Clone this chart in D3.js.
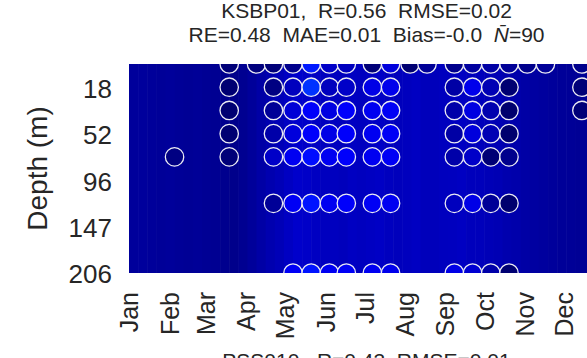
<!DOCTYPE html>
<html>
<head>
<meta charset="utf-8">
<script src="https://cdn.jsdelivr.net/npm/d3@7"></script>
<style>
  body { margin: 0; background: #fff; }
  svg text { font-family: "Liberation Sans", Arial, sans-serif; fill: #262626; }
</style>
</head>
<body>
<div id="chart"></div>
<script>
// month tick labels and depth ticks (depth axis is level index, labels every 2nd level)
const months = ["Jan", "Feb", "Mar", "Apr", "May", "Jun", "Jul", "Aug", "Sep", "Oct", "Nov", "Dec"];
const depthTickLevels = [1, 3, 5, 7, 9];
const depthTickLabels = ["18", "52", "96", "147", "206"];

// model background, one value per week
const bgWeekly = [
  0.031, 0.032, 0.030, 0.029, 0.030,
  0.028, 0.027, 0.028, 0.026,
  0.025, 0.022, 0.020, 0.024,
  0.030, 0.038, 0.045, 0.050,
  0.058, 0.064, 0.062, 0.058, 0.056,
  0.056, 0.054, 0.058, 0.056,
  0.058, 0.060, 0.056, 0.054,
  0.055, 0.058, 0.053, 0.053, 0.055,
  0.056, 0.058, 0.054, 0.053,
  0.050, 0.048, 0.044, 0.042, 0.038,
  0.035, 0.033, 0.031, 0.029,
  0.028, 0.027, 0.026, 0.027
];

// observation dates and values by depth level (null = no sample)
const obsDates = ["2001-02-05", "2001-03-19", "2001-04-09", "2001-04-22", "2001-05-07", "2001-05-21",
  "2001-06-04", "2001-06-17", "2001-07-07", "2001-07-21", "2001-08-05", "2001-08-18",
  "2001-09-08", "2001-09-22", "2001-10-06", "2001-10-20", "2001-11-03", "2001-11-17", "2001-12-15"];
const obsLevel0 = [null, 0.007, 0.010, 0.007, 0.021, 0.120, 0.062, 0.055, 0.007, 0.076, 0.002, 0.028, 0.021, 0.034, 0.038, 0.028, 0.021, 0.028, 0.021];
const obsLevel1 = [null, 0.003, null, 0.014, 0.055, 0.139, 0.055, 0.062, 0.083, 0.086, null, null, 0.038, 0.086, 0.048, 0.003, null, null, 0.007];
const obsLevel2 = [null, 0.003, null, 0.028, 0.072, 0.097, 0.079, 0.097, 0.090, 0.093, null, null, 0.041, 0.079, 0.045, 0.000, null, null, 0.007];
const obsLevel3 = [null, 0.003, null, 0.041, 0.076, 0.097, 0.083, 0.097, 0.090, 0.093, null, null, 0.038, 0.076, 0.048, 0.000, null, null, null];
const obsLevel4 = [0.014, 0.007, null, 0.062, 0.090, 0.110, 0.090, 0.097, 0.090, 0.093, null, null, 0.041, 0.062, 0.005, 0.021, null, null, null];
const obsLevel6 = [null, null, null, 0.028, 0.093, 0.115, 0.090, 0.097, 0.093, 0.090, null, null, 0.055, 0.083, 0.028, 0.000, null, null, null];
const obsLevel9 = [null, null, null, null, 0.093, 0.115, 0.090, 0.093, 0.090, 0.086, null, null, 0.083, 0.069, 0.041, 0.003, null, null, null];

const obsRows = [[0, obsLevel0], [1, obsLevel1], [2, obsLevel2], [3, obsLevel3], [4, obsLevel4], [6, obsLevel6], [9, obsLevel9]];

const W = 587, H = 358;
const svg = d3.select("#chart").append("svg").attr("width", W).attr("height", H);

const parse = d3.timeParse("%Y-%m-%d");
const x = d3.scaleTime().domain([new Date(2001, 0, 1), new Date(2002, 0, 1)]).range([129, 604]);
const y = d3.scaleLinear().domain([0, 9]).range([64, 273]);
const color = d3.scaleLinear()
  .domain([0, 0.1, 0.3])
  .range(["rgb(0,0,110)", "rgb(0,0,255)", "rgb(0,255,255)"])
  .clamp(true);

svg.append("clipPath").attr("id", "plotclip")
  .append("rect")
  .attr("x", x.range()[0]).attr("y", y(0))
  .attr("width", x.range()[1] - x.range()[0]).attr("height", y(9) - y(0));

const plot = svg.append("g").attr("clip-path", "url(#plotclip)");

// background weekly stripes
plot.selectAll("rect.bg")
  .data(bgWeekly)
  .enter().append("rect")
  .attr("class", "bg")
  .attr("x", (d, i) => x(d3.timeDay.offset(new Date(2001, 0, 1), i * 7)))
  .attr("width", (d, i) => {
    const t0 = d3.timeDay.offset(new Date(2001, 0, 1), i * 7);
    const t1 = i === bgWeekly.length - 1 ? new Date(2002, 0, 1) : d3.timeDay.offset(t0, 7);
    return x(t1) - x(t0) + 0.6;
  })
  .attr("y", y(0))
  .attr("height", y(9) - y(0))
  .attr("fill", d => color(d));

// observation circles
const obs = [];
obsRows.forEach(([lev, vals]) => {
  vals.forEach((v, i) => {
    if (v !== null) obs.push({ date: parse(obsDates[i]), level: lev, value: v });
  });
});

plot.selectAll("circle")
  .data(obs)
  .enter().append("circle")
  .attr("cx", d => x(d.date))
  .attr("cy", d => y(d.level))
  .attr("r", 9.2)
  .attr("fill", d => color(d.value))
  .attr("stroke", "#ececf4")
  .attr("stroke-width", 1.3);

// y axis
const yAxis = svg.append("g")
  .attr("transform", `translate(${x.range()[0]},0)`)
  .call(d3.axisLeft(y).tickValues(depthTickLevels)
    .tickFormat((d, i) => depthTickLabels[i]).tickSize(0).tickPadding(17));
yAxis.select(".domain").remove();
yAxis.selectAll("text").style("font-size", "26px").attr("dy", "0.38em");

// x axis, one tick per month start
const monthStarts = months.map((m, i) => new Date(2001, i, 1));
const xAxis = svg.append("g")
  .attr("transform", `translate(0,${y(9)})`)
  .call(d3.axisBottom(x).tickValues(monthStarts)
    .tickFormat(d => months[d.getMonth()]).tickSize(0));
xAxis.select(".domain").remove();
xAxis.selectAll("text")
  .style("font-size", "25px")
  .attr("text-anchor", "end")
  .attr("transform", "rotate(-90)")
  .attr("x", -19)
  .attr("y", 0)
  .attr("dy", "0.35em");

// axis label
svg.append("text")
  .attr("transform", "translate(47,168.5) rotate(-90)")
  .attr("text-anchor", "middle")
  .style("font-size", "28px")
  .text("Depth (m)");

// titles
const cx = (x.range()[0] + x.range()[1]) / 2;
svg.append("text")
  .attr("x", cx).attr("y", 18)
  .attr("text-anchor", "middle")
  .style("font-size", "21px")
  .style("white-space", "pre")
  .text("KSBP01,  R=0.56  RMSE=0.02");

const t2 = svg.append("text")
  .attr("x", cx).attr("y", 42)
  .attr("text-anchor", "middle")
  .style("font-size", "21px")
  .style("white-space", "pre");
t2.append("tspan").text("RE=0.48  MAE=0.01  Bias=-0.0  ");
t2.append("tspan").style("font-style", "italic").text("N\u0304");
t2.append("tspan").text("=90");

// next panel's title, cut by the figure edge
svg.append("text")
  .attr("x", cx).attr("y", 368)
  .attr("text-anchor", "middle")
  .style("font-size", "21px")
  .style("white-space", "pre")
  .text("PSS010,  R=0.43  RMSE=0.01");
</script>
</body>
</html>
